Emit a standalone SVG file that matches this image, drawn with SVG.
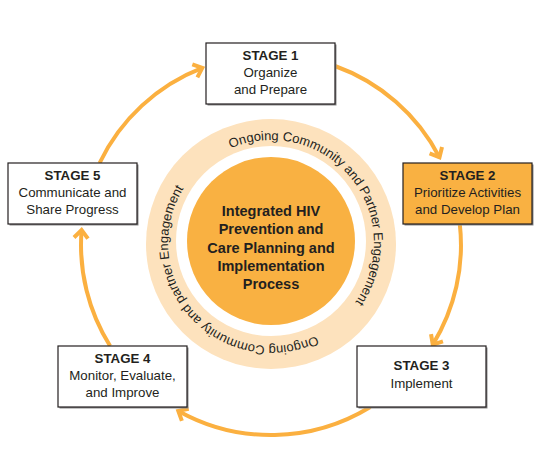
<svg xmlns="http://www.w3.org/2000/svg" width="542" height="463" viewBox="0 0 542 463">
<defs>
<style>
.box{fill:#ffffff;stroke:#231F20;stroke-width:1.2}
.box2{fill:#F9B142;stroke:#231F20;stroke-width:1.2}
.shadow{fill:#8a8a8a}
.ttl{font-family:"Liberation Sans",Arial,sans-serif;font-weight:bold;font-size:13.3px;fill:#231F20;text-anchor:middle}
.txt{font-family:"Liberation Sans",Arial,sans-serif;font-size:13.3px;fill:#231F20;text-anchor:middle}
.ctr{font-family:"Liberation Sans",Arial,sans-serif;font-weight:bold;font-size:14.5px;fill:#231F20;text-anchor:middle}
.ring{font-family:"Liberation Sans",Arial,sans-serif;font-size:13px;fill:#231F20}
.arr{fill:none;stroke:#FBB040;stroke-width:4;marker-end:url(#ah)}
</style>
<marker id="ah" markerUnits="userSpaceOnUse" markerWidth="20" markerHeight="20" refX="0" refY="0" orient="auto" overflow="visible">
<path d="M-8,-7 L0,0 L-8,7" fill="none" stroke="#FBB040" stroke-width="4" stroke-linejoin="miter"/>
</marker>
<path id="tp1" d="M230.76,148.19 A103,103 0 1 1 276.39,345.86"/>
<path id="tp2" d="M316.15,335.58 A103,103 0 1 1 260.23,140.56"/>
</defs>
<rect width="542" height="463" fill="#ffffff"/>

<g id="center">
<circle cx="271" cy="244" r="125" fill="#FDE2BD"/>
<circle cx="271" cy="241" r="95" fill="#ffffff"/>
<circle cx="271" cy="241" r="84" fill="#F9B142"/>
<text class="ring"><textPath href="#tp1" textLength="266" lengthAdjust="spacing">Ongoing Community and Partner Engagement</textPath></text>
<text class="ring"><textPath href="#tp2" textLength="266" lengthAdjust="spacing">Ongoing Community and partner Engagement</textPath></text>
<text class="ctr" x="271" y="216">Integrated HIV</text>
<text class="ctr" x="271" y="234.3">Prevention and</text>
<text class="ctr" x="271" y="252.6">Care Planning and</text>
<text class="ctr" x="271" y="270.9">Implementation</text>
<text class="ctr" x="271" y="289.2">Process</text>
</g>

<g id="connectors">
<path class="arr" d="M335,66 A190,190 0 0 1 439.5,157.3"/>
<path class="arr" d="M459.8,224 A190,190 0 0 1 432.8,344.6"/>
<path class="arr" d="M370.3,407 A190,190 0 0 1 178.3,410.9"/>
<path class="arr" d="M110.1,346 A190,190 0 0 1 81.6,230.1"/>
<path class="arr" d="M99.6,163 A190,190 0 0 1 202.3,67.9"/>
</g>

<g id="stage1">
<rect class="shadow" x="207.5" y="44.5" width="129" height="61"/>
<rect class="box" x="206" y="43" width="129" height="61"/>
<text class="ttl" x="270.5" y="60">STAGE 1</text>
<text class="txt" x="270.5" y="77">Organize</text>
<text class="txt" x="270.5" y="93.5">and Prepare</text>
</g>

<g id="stage2">
<rect class="shadow" x="404.5" y="164.5" width="129" height="61"/>
<rect class="box2" x="403" y="163" width="129" height="61"/>
<text class="ttl" x="467.5" y="180">STAGE 2</text>
<text class="txt" x="467.5" y="197">Prioritize Activities</text>
<text class="txt" x="467.5" y="213.5">and Develop Plan</text>
</g>

<g id="stage3">
<rect class="shadow" x="358.5" y="347.5" width="129" height="61"/>
<rect class="box" x="357" y="346" width="129" height="61"/>
<text class="ttl" x="421.5" y="370">STAGE 3</text>
<text class="txt" x="421.5" y="388">Implement</text>
</g>

<g id="stage4">
<rect class="shadow" x="59.5" y="347.5" width="129" height="61"/>
<rect class="box" x="58" y="346" width="129" height="61"/>
<text class="ttl" x="122.5" y="363">STAGE 4</text>
<text class="txt" x="122.5" y="380">Monitor, Evaluate,</text>
<text class="txt" x="122.5" y="396.5">and Improve</text>
</g>

<g id="stage5">
<rect class="shadow" x="9.5" y="164.5" width="129" height="61"/>
<rect class="box" x="8" y="163" width="129" height="61"/>
<text class="ttl" x="72.5" y="180">STAGE 5</text>
<text class="txt" x="72.5" y="197">Communicate and</text>
<text class="txt" x="72.5" y="213.5">Share Progress</text>
</g>
</svg>
